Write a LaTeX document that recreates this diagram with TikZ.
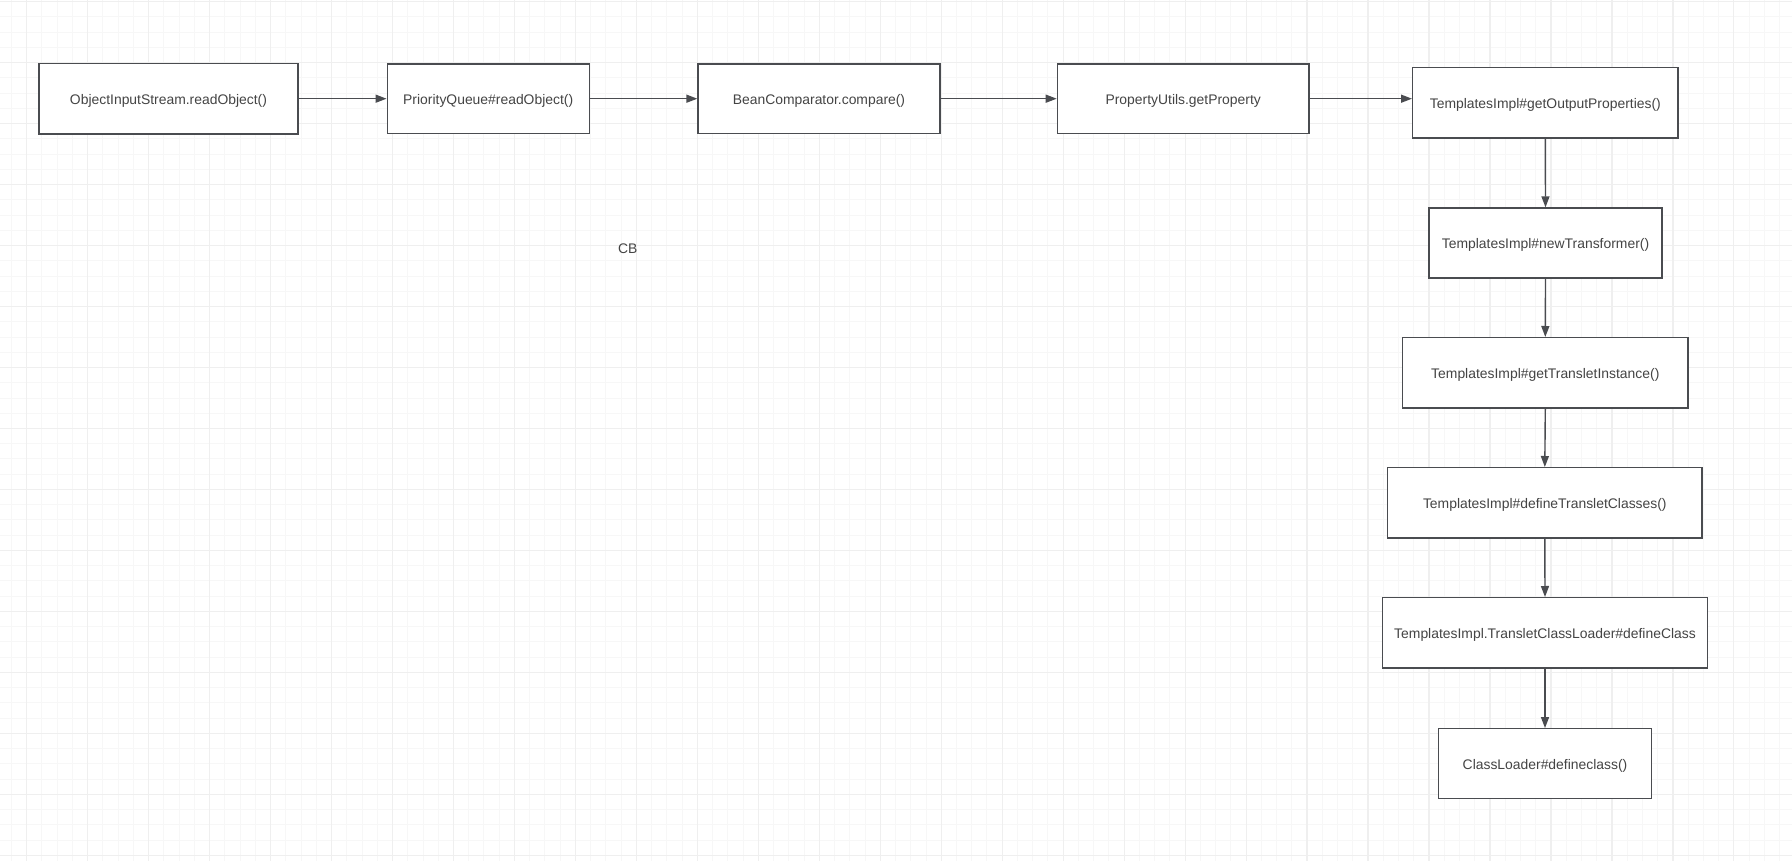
\documentclass[tikz,border=0pt]{standalone}
\usepackage{fontspec}
\setmainfont{Liberation Sans}
\usetikzlibrary{arrows.meta}
\definecolor{gridminor}{HTML}{F7F7F7}
\definecolor{gridmajor}{HTML}{EFEFEF}
\definecolor{boxline}{HTML}{4A4C50}
\definecolor{txt}{HTML}{444444}
\tikzset{
  minorline/.style={draw=gridminor, line width=1pt},
  majorline/.style={draw=gridmajor, line width=1.2pt},
  callbox/.style={draw=boxline, line width=1.3pt, fill=white, rectangle,
    inner sep=0pt, text=txt, text height=13.4pt, text depth=2pt,
    font=\fontsize{13.9}{16}\selectfont},
  flow/.style={draw=boxline, line width=1.4pt, -{Triangle[length=11pt,width=8pt]}},
  plain/.style={text=txt, font=\fontsize{13.9}{16}\selectfont, inner sep=0pt}
}
\begin{document}
\begin{tikzpicture}[x=1pt,y=-1pt]
\useasboundingbox (0,0) rectangle (1792,861);
\fill[white] (0,0) rectangle (1792,861);
% grid
\foreach \i in {0,...,117} \draw[minorline] ({11.46+15.2425*\i},0) -- ++(0,861);
\foreach \j in {0,...,56} \draw[minorline] (0,{1.7+15.2425*\j}) -- ++(1792,0);
\foreach \i in {0,...,29} \draw[majorline] ({26.7+60.97*\i},0) -- ++(0,861);
\foreach \j in {0,...,14} \draw[majorline] (0,{1.7+60.97*\j}) -- ++(1792,0);

% nodes
\node[callbox, minimum width=259pt, minimum height=70.5pt] (b1) at (168.5,98.7) {ObjectInputStream.readObject()};
\node[callbox, minimum width=202pt, minimum height=69.5pt] (b2) at (488.2,98.7) {PriorityQueue\#readObject()};
\node[callbox, minimum width=242pt, minimum height=69.5pt] (b3) at (819,98.7) {BeanComparator.compare()};
\node[callbox, minimum width=251.7pt, minimum height=69.5pt] (b4) at (1183.2,98.7) {PropertyUtils.getProperty};
\node[callbox, minimum width=265.3pt, minimum height=70.3pt] (b5) at (1545.3,102.8) {TemplatesImpl\#getOutputProperties()};
\node[callbox, minimum width=233pt, minimum height=70pt] (b6) at (1545.5,243) {TemplatesImpl\#newTransformer()};
\node[callbox, minimum width=285.3pt, minimum height=70.3pt] (b7) at (1545.3,372.8) {TemplatesImpl\#getTransletInstance()};
\node[callbox, minimum width=314.3pt, minimum height=70.3pt] (b8) at (1544.8,502.8) {TemplatesImpl\#defineTransletClasses()};
\node[callbox, minimum width=324.6pt, minimum height=70.3pt] (b9) at (1545,632.8) {TemplatesImpl.TransletClassLoader\#defineClass};
\node[callbox, minimum width=212.6pt, minimum height=70pt] (b10) at (1545,763.7) {ClassLoader\#defineclass()};
\node[plain] (cb) at (627.7,248.3) {CB};

% connectors
\draw[flow] (b1.east) -- (b2.west);
\draw[flow] (b2.east) -- (b3.west);
\draw[flow] (b3.east) -- (b4.west);
\draw[flow] (b4.east) -- (b4.east -| b5.west);
\draw[flow] (b5.south) -- (b6.north);
\draw[flow] (b6.south) -- (b7.north);
\draw[flow] (b7.south) -- (b8.north);
\draw[flow] (b8.south) -- (b9.north);
\draw[flow] (b9.south) -- (b10.north);
\end{tikzpicture}
\end{document}
